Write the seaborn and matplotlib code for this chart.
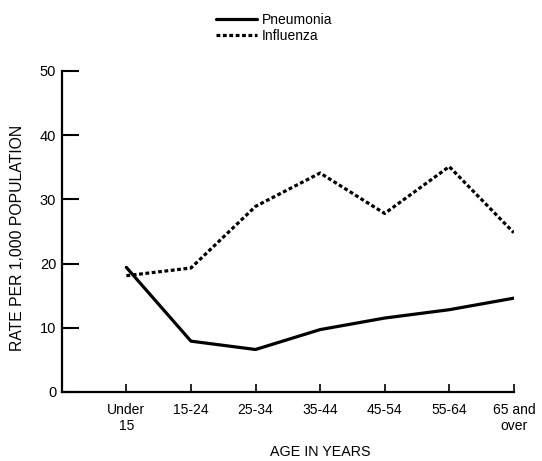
import matplotlib
matplotlib.use("Agg")
import matplotlib.pyplot as plt
import seaborn as sns
import pandas as pd
from matplotlib.lines import Line2D

categories = ["Under\n15", "15-24", "25-34", "35-44", "45-54", "55-64", "65 and\nover"]
pneumonia = [19.4, 7.9, 6.6, 9.7, 11.5, 12.8, 14.6]
influenza = [18.1, 19.3, 28.9, 34.1, 27.8, 35.1, 24.8]
yticks = [0, 10, 20, 30, 40, 50]

sns.set_theme(style="ticks")
plt.rcParams["font.family"] = ["Liberation Sans", "DejaVu Sans"]
plt.rcParams["text.color"] = "black"
plt.rcParams["axes.labelcolor"] = "black"
plt.rcParams["xtick.color"] = "black"
plt.rcParams["ytick.color"] = "black"

df = pd.DataFrame({
    "x": list(range(len(categories))) * 2,
    "rate": pneumonia + influenza,
    "series": ["Pneumonia"] * len(categories) + ["Influenza"] * len(categories),
})

fig = plt.figure(figsize=(5.42, 4.61), dpi=100)
ax = fig.add_axes([0.114, 0.150, 0.834, 0.696])

sns.lineplot(data=df, x="x", y="rate", hue="series", style="series",
             palette={"Pneumonia": "black", "Influenza": "black"},
             dashes={"Pneumonia": "", "Influenza": (1.2, 0.8)},
             linewidth=2.3, ax=ax, legend=False)

ax.set_xlim(-1, 6)
ax.set_ylim(0, 50)
ax.set_xticks(range(len(categories)))
ax.set_xticklabels(categories, fontsize=10, multialignment="center")
ax.set_yticks(yticks)
ax.set_yticklabels([str(v) for v in yticks], fontsize=10.5)
ax.tick_params(axis="y", direction="in", length=12, width=1.5, pad=4)
ax.tick_params(axis="x", direction="in", length=6, width=1.2, pad=8)
for s in ["top", "right"]:
    ax.spines[s].set_visible(False)
for s in ["left", "bottom"]:
    ax.spines[s].set_linewidth(1.6)
    ax.spines[s].set_color("black")

ax.set_xlabel("AGE IN YEARS", fontsize=10.3)
ax.xaxis.set_label_coords(0.571, -0.166)
ax.set_ylabel("RATE PER 1,000 POPULATION", fontsize=11.3)
ax.yaxis.set_label_coords(-0.082, 0.48)

handles = [Line2D([], [], color="black", lw=2.3),
           Line2D([], [], color="black", lw=2.3, dashes=(1.2, 0.8))]
fig.legend(handles, ["Pneumonia", "Influenza"], loc="upper center",
           bbox_to_anchor=(0.505, 1.0), frameon=False, fontsize=10,
           handlelength=3.0, handletextpad=0.3, labelspacing=0.15)

fig.savefig("out.png", dpi=100)
